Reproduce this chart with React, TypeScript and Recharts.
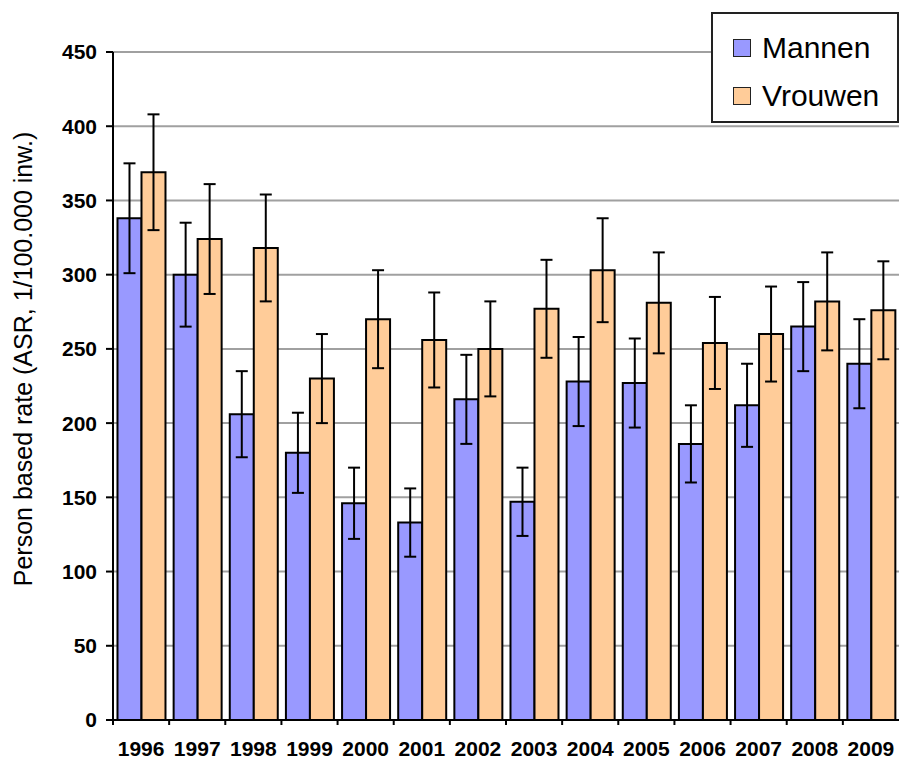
import React from "react";
import {
  BarChart,
  Bar,
  XAxis,
  YAxis,
  CartesianGrid,
  Legend,
  ErrorBar,
  Label,
} from "recharts";

const years = [
  "1996", "1997", "1998", "1999", "2000", "2001", "2002",
  "2003", "2004", "2005", "2006", "2007", "2008", "2009",
];
const mannen = [338, 300, 206, 180, 146, 133, 216, 147, 228, 227, 186, 212, 265, 240];
const mannenErr = [37, 35, 29, 27, 24, 23, 30, 23, 30, 30, 26, 28, 30, 30];
const vrouwen = [369, 324, 318, 230, 270, 256, 250, 277, 303, 281, 254, 260, 282, 276];
const vrouwenErr = [39, 37, 36, 30, 33, 32, 32, 33, 35, 34, 31, 32, 33, 33];
const yTicks = [0, 50, 100, 150, 200, 250, 300, 350, 400, 450];

const seriesNames = { m: "Mannen", v: "Vrouwen" };
const BLUE = "#9999ff";
const ORANGE = "#ffcc99";
const FONT = "'Liberation Sans', Arial, sans-serif";

const data = years.map((year, i) => ({
  year,
  m: mannen[i],
  mErr: mannenErr[i],
  v: vrouwen[i],
  vErr: vrouwenErr[i],
}));

// Excel style: tick marks between categories, label in the middle
const YearTick = (props: any) => {
  const { x, y, payload } = props;
  const half = payload?.offset ?? 28;
  return (
    <g>
      <line x1={x - half} y1={y - 5} x2={x - half} y2={y} stroke="#000" strokeWidth={2} />
      <text
        x={x}
        y={y + 31}
        textAnchor="middle"
        fontFamily={FONT}
        fontWeight="bold"
        fontSize={21}
        fill="#000"
      >
        {payload.value}
      </text>
    </g>
  );
};

const AxisTitle = (props: any) => {
  const { viewBox } = props;
  const cx = viewBox.x + 23;
  const cy = viewBox.y + viewBox.height / 2 - 27;
  return (
    <text
      x={cx}
      y={cy}
      transform={`rotate(-90, ${cx}, ${cy})`}
      textAnchor="middle"
      dominantBaseline="central"
      fontFamily={FONT}
      fontSize={25}
      fill="#000"
    >
      Person based rate (ASR, 1/100.000 inw.)
    </text>
  );
};

const LegendBox = () => (
  <div
    style={{
      width: 188,
      height: 111,
      boxSizing: "border-box",
      border: "2px solid #222",
      background: "#fff",
      fontFamily: FONT,
      fontSize: 30,
      color: "#000",
      paddingLeft: 20,
      paddingTop: 10,
    }}
  >
    {[
      { name: seriesNames.m, color: BLUE },
      { name: seriesNames.v, color: ORANGE },
    ].map((item) => (
      <div
        key={item.name}
        style={{ display: "flex", alignItems: "center", height: 48 }}
      >
        <span
          style={{
            display: "inline-block",
            width: 16,
            height: 16,
            background: item.color,
            border: "1.5px solid #222",
            marginRight: 11,
          }}
        />
        <span>{item.name}</span>
      </div>
    ))}
  </div>
);

export default function App() {
  return (
    <div style={{ position: "absolute", left: 0, top: 0, background: "#fff" }}>
      <BarChart
        width={899}
        height={762}
        data={data}
        barGap={0}
        barCategoryGap="8%"
        margin={{ top: 52, right: 0, left: 0, bottom: 0 }}
      >
        <CartesianGrid
          vertical={false}
          stroke="#a0a0a0"
          strokeWidth={2}
        />
        <XAxis
          dataKey="year"
          height={42}
          axisLine={{ stroke: "#000", strokeWidth: 2 }}
          tickLine={false}
          tickSize={5}
          tickMargin={0}
          interval={0}
          tick={<YearTick />}
        />
        <YAxis
          width={113}
          domain={[0, 450]}
          ticks={yTicks}
          interval={0}
          axisLine={{ stroke: "#000", strokeWidth: 2 }}
          tickLine={{ stroke: "#000", strokeWidth: 2 }}
          tickSize={7}
          tickMargin={9}
          tick={{
            fontFamily: FONT,
            fontWeight: "bold",
            fontSize: 21,
            fill: "#000",
          }}
        >
          <Label content={<AxisTitle />} />
        </YAxis>
        <Legend
          layout="vertical"
          align="center"
          verticalAlign="middle"
          content={<LegendBox />}
          wrapperStyle={{ left: 711, top: 12, width: 188, height: 111 }}
        />
        <Bar
          dataKey="m"
          name={seriesNames.m}
          fill={BLUE}
          stroke="#000"
          strokeWidth={2}
          isAnimationActive={false}
        >
          <ErrorBar dataKey="mErr" width={6} stroke="#000" strokeWidth={2} />
        </Bar>
        <Bar
          dataKey="v"
          name={seriesNames.v}
          fill={ORANGE}
          stroke="#000"
          strokeWidth={2}
          isAnimationActive={false}
        >
          <ErrorBar dataKey="vErr" width={6} stroke="#000" strokeWidth={2} />
        </Bar>
      </BarChart>
    </div>
  );
}
